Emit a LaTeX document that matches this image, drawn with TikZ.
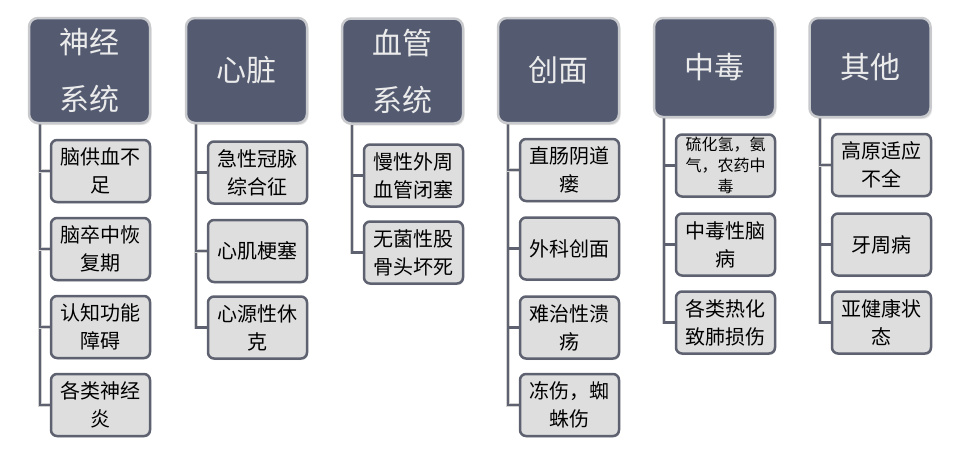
\documentclass[tikz,border=0pt]{standalone}
\usepackage{fontspec}
\newfontfamily\cjk{Noto Sans CJK SC}
\usetikzlibrary{shadows,backgrounds}

\definecolor{rootfill}{HTML}{545B71}
\definecolor{rootedge}{HTML}{C8C9CC}
\definecolor{boxfill}{HTML}{DEDEDE}
\definecolor{boxedge}{HTML}{5E6270}
\definecolor{linegray}{HTML}{5E6270}

\tikzset{
  rootbox/.style={draw=rootedge, line width=2.5pt, fill=rootfill, rounded corners=9pt,
    text=white!92!black, align=center, font=\cjk\fontsize{30}{57}\selectfont,
    minimum width=121pt, minimum height=105pt, inner sep=0pt,
    drop shadow={opacity=0.2, shadow xshift=1.5pt, shadow yshift=-2pt}},
  subbox/.style={draw=boxedge, line width=2.5pt, fill=boxfill, rounded corners=6pt,
    align=center, font=\cjk\fontsize{20}{28}\selectfont,
    minimum width=99pt, minimum height=62pt, inner sep=0pt,
    drop shadow={opacity=0.2, shadow xshift=1pt, shadow yshift=-1.5pt}},
  smalltext/.style={font=\cjk\fontsize{16}{21}\selectfont},
  conn/.style={draw=gray!35, double=linegray, double distance=2.2pt, line width=0.7pt},
}

\begin{document}
\begin{tikzpicture}[x=1pt,y=1pt]
  \useasboundingbox (0,0) rectangle (958,-450);
  % ---- nervous system ----
  \begin{scope}[shift={(28,0)}]
    \node[rootbox] (root1) at (61.5,-70.5) {神经\\系统};
    \coordinate (trunk1) at ([xshift=12pt]root1.south west);
    \foreach \n/\y/\t in {a/171/{脑供血不\\足},b/249/{脑卒中恢\\复期},
                          c/327/{认知功能\\障碍},d/405/{各类神经\\炎}}{
      \node[subbox] (sub1\n) at (72.5,-\y) {\t};}
    \begin{scope}[on background layer]
      \foreach \n in {d,c,b,a}{\draw[conn] (trunk1) |- (sub1\n.west);}
    \end{scope}
  \end{scope}
  % ---- heart ----
  \begin{scope}[shift={(185,0)}]
    \node[rootbox] (root2) at (61.5,-70.5) {心脏};
    \coordinate (trunk2) at ([xshift=11pt]root2.south west);
    \foreach \n/\y/\t in {a/172.5/{急性冠脉\\综合征},b/251/{心肌梗塞},
                          c/327.5/{心源性休\\克}}{
      \node[subbox] (sub2\n) at (72.5,-\y) {\t};}
    \begin{scope}[on background layer]
      \foreach \n in {c,b,a}{\draw[conn] (trunk2) |- (sub2\n.west);}
    \end{scope}
  \end{scope}
  % ---- vascular system ----
  \begin{scope}[shift={(341,0)}]
    \node[rootbox] (root3) at (61.5,-71) {血管\\系统};
    \coordinate (trunk3) at ([xshift=11pt]root3.south west);
    \foreach \n/\y/\t in {a/175.5/{慢性外周\\血管闭塞},b/252.5/{无菌性股\\骨头坏死}}{
      \node[subbox] (sub3\n) at (72.5,-\y) {\t};}
    \begin{scope}[on background layer]
      \foreach \n in {b,a}{\draw[conn] (trunk3) |- (sub3\n.west);}
    \end{scope}
  \end{scope}
  % ---- wounds ----
  \begin{scope}[shift={(497,0)}]
    \node[rootbox] (root4) at (61.5,-70.5) {创面};
    \coordinate (trunk4) at ([xshift=11pt]root4.south west);
    \foreach \n/\y/\t in {a/170/{直肠阴道\\瘘},b/248.5/{外科创面},
                          c/327.5/{难治性溃\\疡},d/405/{冻伤，蜘\\蛛伤}}{
      \node[subbox] (sub4\n) at (72.5,-\y) {\t};}
    \begin{scope}[on background layer]
      \foreach \n in {d,c,b,a}{\draw[conn] (trunk4) |- (sub4\n.west);}
    \end{scope}
  \end{scope}
  % ---- poisoning ----
  \begin{scope}[shift={(653,0)}]
    \node[rootbox, minimum height=99pt] (root5) at (61.5,-67.5) {中毒};
    \coordinate (trunk5) at ([xshift=11pt]root5.south west);
    \node[subbox, smalltext] (sub5a) at (72.5,-165.5) {硫化氢，氨\\气，农药中\\毒};
    \foreach \n/\y/\t in {b/244.5/{中毒性脑\\病},c/322.5/{各类热化\\致肺损伤}}{
      \node[subbox] (sub5\n) at (72.5,-\y) {\t};}
    \begin{scope}[on background layer]
      \foreach \n in {c,b,a}{\draw[conn] (trunk5) |- (sub5\n.west);}
    \end{scope}
  \end{scope}
  % ---- others ----
  \begin{scope}[shift={(808,0)}]
    \node[rootbox, minimum height=99pt] (root6) at (62,-67.5) {其他};
    \coordinate (trunk6) at ([xshift=12pt]root6.south west);
    \foreach \n/\y/\t in {a/165/{高原适应\\不全},b/244.5/{牙周病},
                          c/322.5/{亚健康状\\态}}{
      \node[subbox] (sub6\n) at (73.5,-\y) {\t};}
    \begin{scope}[on background layer]
      \foreach \n in {c,b,a}{\draw[conn] (trunk6) |- (sub6\n.west);}
    \end{scope}
  \end{scope}
\end{tikzpicture}
\end{document}
